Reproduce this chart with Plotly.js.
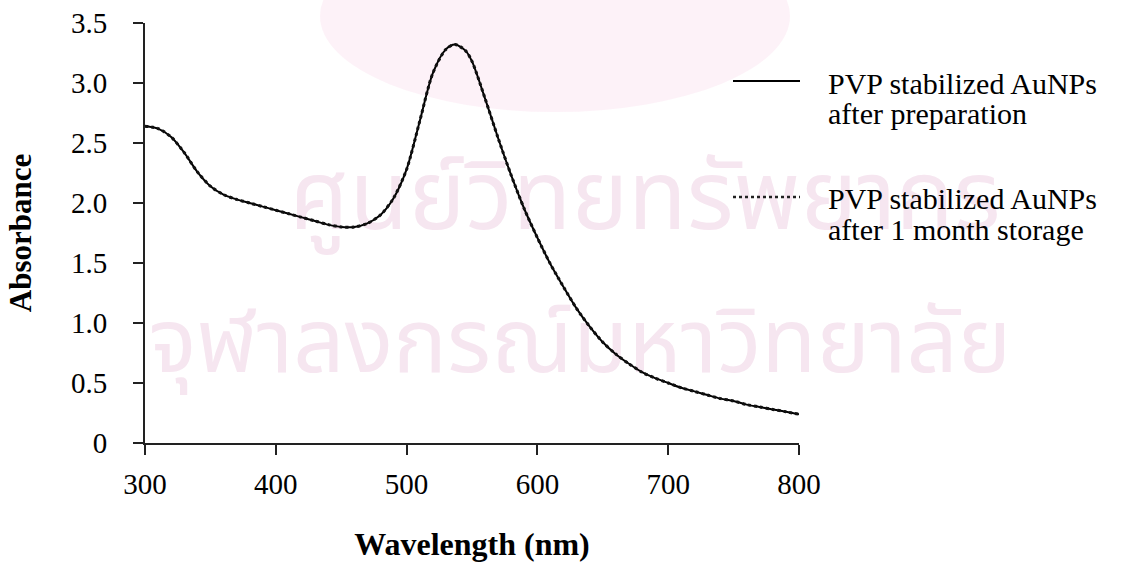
<!DOCTYPE html>
<html>
<head>
<meta charset="utf-8">
<script src="https://cdn.plot.ly/plotly-3.0.1.min.js"></script>
<style>html,body{margin:0;padding:0;background:#fff;}#chart{width:1126px;height:568px;}</style>
</head>
<body>
<div id="chart"></div>
<script>
// wavelength (nm)
const wavelength = [300,310,320,330,340,350,360,370,380,390,400,410,420,430,440,450,460,470,480,490,500,510,520,530,537,545,550,560,570,580,590,600,610,620,630,640,650,660,670,680,690,700,710,720,730,740,750,760,770,780,790,800];
// absorbance, PVP stabilized AuNPs after preparation
const absAfterPrep = [2.64,2.62,2.55,2.42,2.26,2.14,2.07,2.03,2.00,1.97,1.94,1.91,1.88,1.85,1.82,1.80,1.80,1.83,1.90,2.04,2.28,2.68,3.08,3.28,3.32,3.27,3.18,2.87,2.54,2.23,1.95,1.71,1.49,1.30,1.12,0.97,0.84,0.74,0.66,0.59,0.54,0.50,0.46,0.43,0.40,0.37,0.35,0.32,0.30,0.28,0.26,0.24];
// absorbance, PVP stabilized AuNPs after 1 month storage
const absAfterStorage = [2.64,2.62,2.55,2.42,2.26,2.14,2.07,2.03,2.00,1.97,1.94,1.91,1.88,1.85,1.82,1.80,1.80,1.83,1.90,2.04,2.28,2.68,3.08,3.28,3.32,3.27,3.18,2.87,2.54,2.23,1.95,1.71,1.49,1.30,1.12,0.97,0.84,0.74,0.66,0.59,0.54,0.50,0.46,0.43,0.40,0.37,0.35,0.32,0.30,0.28,0.26,0.24];
const seriesNames = ['PVP stabilized AuNPs after preparation','PVP stabilized AuNPs after 1 month storage'];
const legendLines = [['PVP stabilized AuNPs','after preparation'],['PVP stabilized AuNPs','after 1 month storage']];
const xTicks = [300,400,500,600,700,800];
const yTicks = [0,0.5,1.0,1.5,2.0,2.5,3.0,3.5];
const yTickText = ['0','0.5','1.0','1.5','2.0','2.5','3.0','3.5'];
const watermark = ['ศูนย์วิทยทรัพยากร','จุฬาลงกรณ์มหาวิทยาลัย'];

const W = 1126, H = 568;
const M = {l:145, r:327, t:23, b:125};
const pw = W - M.l - M.r, ph = H - M.t - M.b;
const px = x => (x - M.l) / pw;
const py = y => (H - M.b - y) / ph;

const serif = 'Liberation Serif, Times New Roman, serif';
const thai = 'Noto Sans Thai, Loma, Garuda, Noto Sans, DejaVu Sans, sans-serif';

const traces = [
  {x: wavelength, y: absAfterPrep, name: seriesNames[0], type:'scatter', mode:'lines',
   line:{color:'#000', width:2, shape:'spline', smoothing:0.8}, showlegend:false},
  {x: wavelength, y: absAfterStorage, name: seriesNames[1], type:'scatter', mode:'lines',
   line:{color:'#111', width:3, dash:'dot', shape:'spline', smoothing:0.8}, showlegend:false}
];

const shapes = [
  // faint watermark emblem
  {type:'circle', xref:'paper', yref:'paper', x0:px(320), x1:px(790), y0:py(112), y1:py(-80),
   fillcolor:'rgba(252,238,246,0.75)', line:{width:0}, layer:'below'},
  {type:'rect', xref:'paper', yref:'paper', x0:px(200), x1:px(1090), y0:py(260), y1:py(150),
   fillcolor:'rgba(0,0,0,0)', line:{width:0}, layer:'below',
   label:{text: watermark[0], font:{family:thai, size:96, color:'#f6e6f0'}, textposition:'middle center'}},
  {type:'rect', xref:'paper', yref:'paper', x0:px(100), x1:px(1060), y0:py(400), y1:py(300),
   fillcolor:'rgba(0,0,0,0)', line:{width:0}, layer:'below',
   label:{text: watermark[1], font:{family:thai, size:90, color:'#f6e6f0'}, textposition:'middle center'}},
  // legend samples
  {type:'line', xref:'paper', yref:'paper', x0:px(733), x1:px(800), y0:py(81), y1:py(81),
   line:{color:'#000', width:2}},
  {type:'line', xref:'paper', yref:'paper', x0:px(733), x1:px(800), y0:py(197), y1:py(197),
   line:{color:'#222', width:2.5, dash:'dot'}}
];

const legFont = {family: serif, size: 30, color:'#000'};
const annotations = [];
const legendTop = [[83,113],[199,229]];
legendLines.forEach((lines, i) => {
  lines.forEach((t, j) => {
    annotations.push({xref:'paper', yref:'paper', x:px(826), y:py(legendTop[i][j]),
      xanchor:'left', yanchor:'middle', text:t, showarrow:false, font:legFont, align:'left'});
  });
});

const layout = {
  width: W, height: H,
  margin: M,
  paper_bgcolor:'#fff', plot_bgcolor:'rgba(0,0,0,0)',
  showlegend:false,
  font:{family: serif, color:'#000'},
  xaxis:{
    range:[300,800], tickvals:xTicks, ticktext:xTicks.map(String),
    showline:true, linecolor:'#222', linewidth:2, mirror:false,
    ticks:'outside', ticklen:10, tickwidth:2, tickcolor:'#222',
    showgrid:false, zeroline:false, fixedrange:true,
    tickfont:{family:serif, size:29, color:'#000'}, ticklabelstandoff:4,
    title:{text:'<b>Wavelength (nm)</b>', font:{family:serif, size:32, color:'#000'}, standoff:34},
    automargin:false
  },
  yaxis:{
    range:[0,3.5], tickvals:yTicks, ticktext:yTickText,
    showline:true, linecolor:'#222', linewidth:2,
    ticks:'outside', ticklen:10, tickwidth:2, tickcolor:'#222',
    showgrid:false, zeroline:false, fixedrange:true,
    tickfont:{family:serif, size:29, color:'#000'}, ticklabelstandoff:20,
    title:{text:'<b>Absorbance</b>', font:{family:serif, size:31, color:'#000'}, standoff:30},
    automargin:false
  },
  shapes: shapes,
  annotations: annotations
};

Plotly.newPlot('chart', traces, layout, {displayModeBar:false, staticPlot:true});
</script>
</body>
</html>
